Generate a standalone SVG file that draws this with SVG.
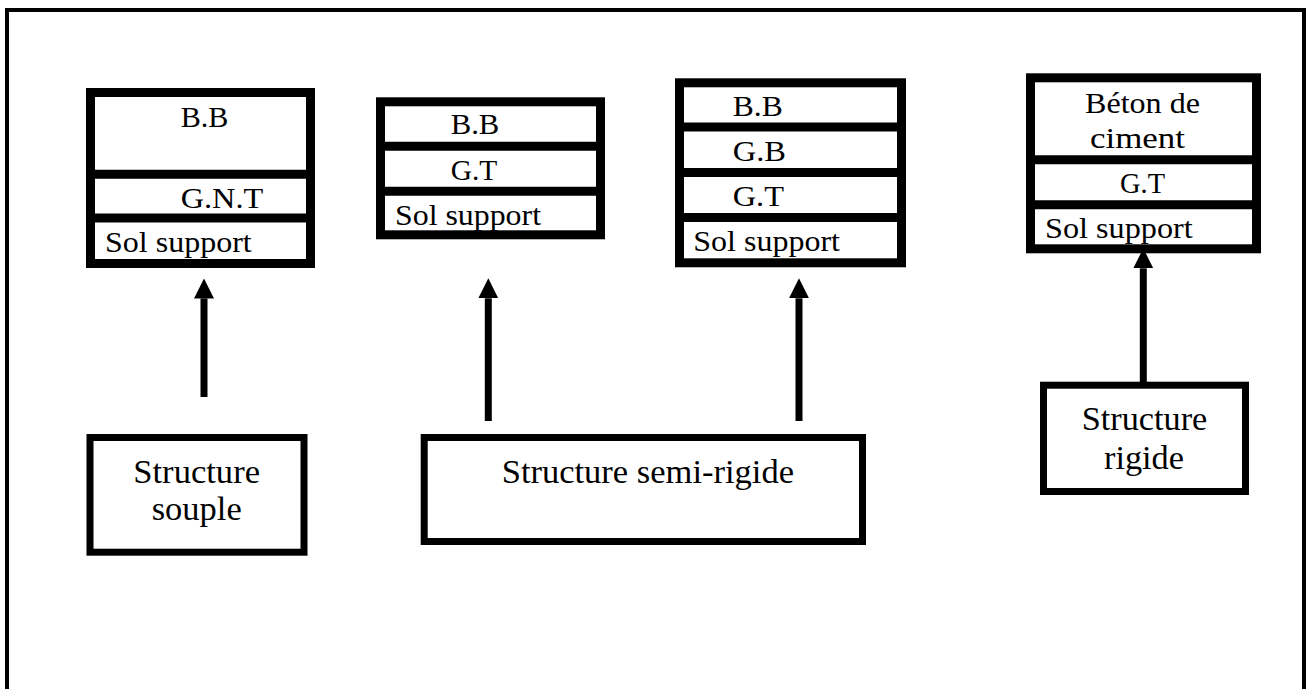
<svg xmlns="http://www.w3.org/2000/svg" width="1306" height="689" viewBox="0 0 1306 689">
<defs>
<style>
.frame{fill:none;stroke:#000;stroke-width:4}
.layer{fill:#fff;stroke:#000;stroke-width:9}
.div{stroke:#000;stroke-width:9}
.struct{fill:#fff;stroke:#000;stroke-width:7}
.t{font-family:"Liberation Serif","Times New Roman",serif;font-size:29px;fill:#000}
.b{font-family:"Liberation Serif","Times New Roman",serif;font-size:34px;fill:#000}
.arr{stroke:#000;stroke-width:7;fill:none;marker-end:url(#head)}
</style>
<marker id="head" viewBox="0 0 20 20" refX="0" refY="10" markerWidth="20" markerHeight="20" markerUnits="userSpaceOnUse" orient="auto">
<path d="M0,0 L20,10 L0,20 z" fill="#000"/>
</marker>
</defs>
<rect width="1306" height="689" fill="#fff"/>
<rect class="frame" x="7" y="10" width="1297" height="700"/>

<g id="connectors">
<line class="arr" x1="204" y1="397" x2="204" y2="298.5"/>
<line class="arr" x1="488.3" y1="421" x2="488.3" y2="298.3"/>
<line class="arr" x1="799" y1="421" x2="799" y2="298.3"/>
<line class="arr" x1="1143.3" y1="383" x2="1143.3" y2="268.3"/>
</g>

<g id="souple-layers">
<rect class="layer" x="90.5" y="92.5" width="220" height="171"/>
<line class="div" x1="90.5" y1="174.2" x2="310.5" y2="174.2"/>
<line class="div" x1="90.5" y1="218" x2="310.5" y2="218"/>
<text class="t" x="180.7" y="126.7" textLength="47.7" lengthAdjust="spacingAndGlyphs">B.B</text>
<text class="t" x="180.7" y="208.3" textLength="82.6" lengthAdjust="spacingAndGlyphs">G.N.T</text>
<text class="t" x="105" y="252" textLength="146.7" lengthAdjust="spacingAndGlyphs">Sol support</text>
</g>

<g id="semi1-layers">
<rect class="layer" x="380.5" y="101.8" width="220" height="133"/>
<line class="div" x1="380.5" y1="146.3" x2="600.5" y2="146.3"/>
<line class="div" x1="380.5" y1="191.3" x2="600.5" y2="191.3"/>
<text class="t" x="450.7" y="134" textLength="48.6" lengthAdjust="spacingAndGlyphs">B.B</text>
<text class="t" x="450.7" y="180" textLength="46.6" lengthAdjust="spacingAndGlyphs">G.T</text>
<text class="t" x="395" y="225" textLength="146" lengthAdjust="spacingAndGlyphs">Sol support</text>
</g>

<g id="semi2-layers">
<rect class="layer" x="679.5" y="82.8" width="222" height="180"/>
<line class="div" x1="679.5" y1="127" x2="901.5" y2="127"/>
<line class="div" x1="679.5" y1="172.5" x2="901.5" y2="172.5"/>
<line class="div" x1="679.5" y1="217.5" x2="901.5" y2="217.5"/>
<text class="t" x="732.7" y="116" textLength="50" lengthAdjust="spacingAndGlyphs">B.B</text>
<text class="t" x="732.7" y="161" textLength="53.3" lengthAdjust="spacingAndGlyphs">G.B</text>
<text class="t" x="732.7" y="206" textLength="51.3" lengthAdjust="spacingAndGlyphs">G.T</text>
<text class="t" x="693.3" y="251" textLength="146.7" lengthAdjust="spacingAndGlyphs">Sol support</text>
</g>

<g id="rigide-layers">
<rect class="layer" x="1030.5" y="77.8" width="226" height="171"/>
<line class="div" x1="1030.5" y1="159.7" x2="1256.5" y2="159.7"/>
<line class="div" x1="1030.5" y1="204.7" x2="1256.5" y2="204.7"/>
<text class="t" x="1085" y="113.3" textLength="115" lengthAdjust="spacingAndGlyphs">Béton de</text>
<text class="t" x="1090" y="148.3" textLength="95" lengthAdjust="spacingAndGlyphs">ciment</text>
<text class="t" x="1120" y="193.3" textLength="45" lengthAdjust="spacingAndGlyphs">G.T</text>
<text class="t" x="1045" y="238.3" textLength="147.7" lengthAdjust="spacingAndGlyphs">Sol support</text>
</g>

<g id="structure-souple">
<rect class="struct" x="90" y="437.5" width="214" height="114.7"/>
<text class="b" x="133.3" y="482.7" textLength="126.7" lengthAdjust="spacingAndGlyphs">Structure</text>
<text class="b" x="151.7" y="520" textLength="90" lengthAdjust="spacingAndGlyphs">souple</text>
</g>

<g id="structure-semi-rigide">
<rect class="struct" x="424.2" y="437.5" width="438.3" height="104"/>
<text class="b" x="501.7" y="482.7" textLength="292.3" lengthAdjust="spacingAndGlyphs">Structure semi-rigide</text>
</g>

<g id="structure-rigide">
<rect class="struct" x="1043.5" y="385.2" width="202" height="106.3"/>
<text class="b" x="1081.7" y="430" textLength="125.6" lengthAdjust="spacingAndGlyphs">Structure</text>
<text class="b" x="1104" y="469.3" textLength="80" lengthAdjust="spacingAndGlyphs">rigide</text>
</g>
</svg>
